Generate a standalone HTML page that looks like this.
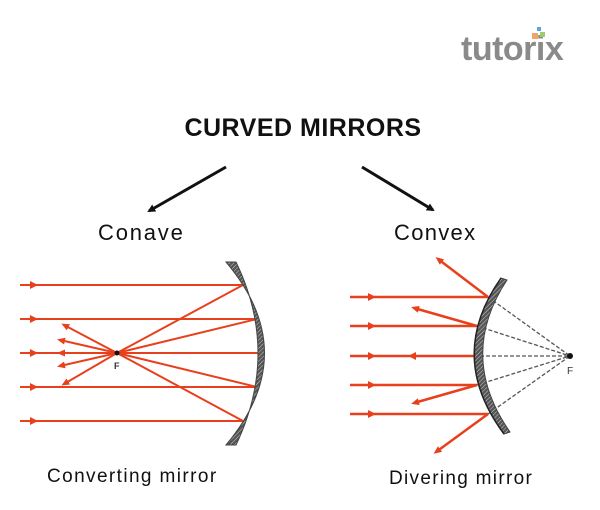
<!DOCTYPE html>
<html><head><meta charset="utf-8"><style>
html,body{margin:0;padding:0;background:#fff;width:600px;height:510px;overflow:hidden}
text{font-family:"Liberation Sans",sans-serif}
</style></head><body>
<svg width="600" height="510" viewBox="0 0 600 510" xmlns="http://www.w3.org/2000/svg">
<defs>
<marker id="ah" markerWidth="8" markerHeight="8" refX="6" refY="4" orient="auto" markerUnits="userSpaceOnUse"><path d="M0,0 L8,4 L0,8 z" fill="#111"/></marker>
<marker id="ra" markerWidth="8" markerHeight="7" refX="5" refY="3.5" orient="auto" markerUnits="userSpaceOnUse"><path d="M0,0 L8,3.5 L0,7 z" fill="#e8401c"/></marker>
<pattern id="hatch" width="3" height="3" patternUnits="userSpaceOnUse" patternTransform="rotate(45)"><rect width="3" height="3" fill="#555"/><line x1="0" y1="0" x2="0" y2="3" stroke="#ccc" stroke-width="1"/></pattern>
</defs>
<!-- logo -->
<text x="461" y="60" font-size="34" font-weight="bold" fill="#8a8a8a" letter-spacing="-0.5">tutorix</text>
<rect x="537" y="27" width="4" height="4" fill="#5aa6e0"/>
<rect x="532" y="33" width="6" height="6" fill="#f2a36a"/>
<rect x="540" y="32" width="5" height="5" fill="#9ccf6a"/>
<!-- title -->
<text x="303" y="136" font-size="25" font-weight="bold" text-anchor="middle" fill="#111" letter-spacing="0.5">CURVED MIRRORS</text>
<line x1="226" y1="167" x2="149" y2="211" stroke="#111" stroke-width="3" marker-end="url(#ah)"/>
<line x1="362" y1="167" x2="433" y2="210" stroke="#111" stroke-width="3" marker-end="url(#ah)"/>
<text x="98" y="240" font-size="22" fill="#111" letter-spacing="1.8">Conave</text>
<text x="394" y="240" font-size="22" fill="#111" letter-spacing="1.3">Convex</text>
<!-- concave -->
<g stroke="#e8401c" stroke-width="2" fill="none">
<line x1="20" y1="285" x2="243" y2="285"/>
<line x1="20" y1="319" x2="257" y2="319"/>
<line x1="20" y1="353" x2="265" y2="353"/>
<line x1="20" y1="387" x2="257" y2="387"/>
<line x1="20" y1="421" x2="243" y2="421"/>
<line x1="243" y1="285" x2="117" y2="353"/>
<line x1="257" y1="319" x2="117" y2="353"/>
<line x1="257" y1="387" x2="117" y2="353"/>
<line x1="243" y1="421" x2="117" y2="353"/>
<line x1="117" y1="353" x2="64" y2="325" marker-end="url(#ra)"/>
<line x1="117" y1="353" x2="60" y2="340" marker-end="url(#ra)"/>
<line x1="117" y1="353" x2="60" y2="366" marker-end="url(#ra)"/>
<line x1="117" y1="353" x2="64" y2="384" marker-end="url(#ra)"/>
<line x1="117" y1="353" x2="60" y2="353" marker-end="url(#ra)"/>
</g>
<g fill="#e8401c">
<path d="M30,281 L38,285 L30,289z"/><path d="M30,315 L38,319 L30,323z"/><path d="M30,349 L38,353 L30,357z"/><path d="M30,383 L38,387 L30,391z"/><path d="M30,417 L38,421 L30,425z"/>
</g>
<circle cx="117" cy="353" r="2.5" fill="#111"/>
<text x="114" y="369" font-size="9" font-weight="bold" fill="#333">F</text>
<path d="M226,262 Q303,353 226,445 L236,445 Q280,353 236,262 z" fill="url(#hatch)" stroke="#444" stroke-width="1"/>
<text x="47" y="482" font-size="19" fill="#111" letter-spacing="1.4">Converting mirror</text>
<!-- convex -->
<g stroke="#555" stroke-width="1.3" stroke-dasharray="4,2" fill="none">
<line x1="488" y1="297" x2="570" y2="356"/><line x1="477" y1="326" x2="570" y2="356"/><line x1="474" y1="356" x2="570" y2="356"/><line x1="477" y1="385" x2="570" y2="356"/><line x1="488" y1="414" x2="570" y2="356"/>
</g>
<g stroke="#e8401c" stroke-width="2.5" fill="none">
<line x1="350" y1="297" x2="488" y2="297"/>
<line x1="350" y1="326" x2="477" y2="326"/>
<line x1="350" y1="356" x2="474" y2="356"/>
<line x1="350" y1="385" x2="477" y2="385"/>
<line x1="350" y1="414" x2="488" y2="414"/>
<line x1="488" y1="297" x2="438" y2="259" marker-end="url(#ra)"/>
<line x1="477" y1="326" x2="414" y2="308" marker-end="url(#ra)"/>
<line x1="477" y1="385" x2="414" y2="403" marker-end="url(#ra)"/>
<line x1="488" y1="414" x2="436" y2="452" marker-end="url(#ra)"/>
</g>
<g fill="#e8401c">
<path d="M368,293 L376,297 L368,301z"/><path d="M368,322 L376,326 L368,330z"/><path d="M368,352 L376,356 L368,360z"/><path d="M368,381 L376,385 L368,389z"/><path d="M368,410 L376,414 L368,418z"/>
<path d="M416,352 L408,356 L416,360z"/>
</g>
<path d="M501,278 Q446,356 504,434 L510,432 Q457,356 507,280 z" fill="url(#hatch)" stroke="#444" stroke-width="1"/>
<path d="M501,278 Q446,356 504,434" stroke="#222" stroke-width="1.5" fill="none"/>
<circle cx="570" cy="356" r="3" fill="#111"/>
<text x="567" y="374" font-size="10" fill="#333">F</text>
<text x="389" y="484" font-size="19" fill="#111" letter-spacing="1.3">Divering mirror</text>
</svg>
</body></html>
